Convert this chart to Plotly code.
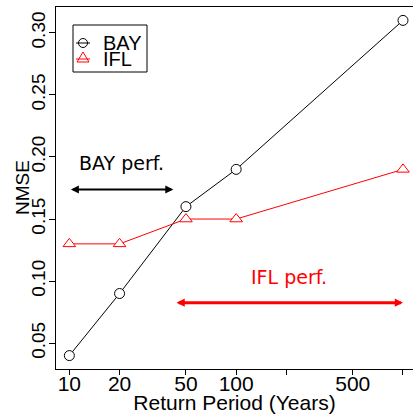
import math
import plotly.graph_objects as go

# ---------------- data ----------------
return_period = [10, 20, 50, 100, 1000]
bay_nmse = [0.04, 0.09, 0.16, 0.19, 0.31]
ifl_nmse = [0.13, 0.13, 0.15, 0.15, 0.19]
series_names = ["BAY", "IFL"]
series_colors = ["black", "red"]
x_tick_values = [10, 20, 50, 100, 200, 500, 1000]
x_tick_labels = ["10", "20", "50", "100", "", "500", ""]
y_tick_values = [0.05, 0.10, 0.15, 0.20, 0.25, 0.30]
y_tick_labels = ["0.05", "0.10", "0.15", "0.20", "0.25", "0.30"]
bay_perf_span = [10, 42]
ifl_perf_span = [43, 1000]
perf_labels = ["BAY perf.", "IFL perf."]
x_title = "Return Period (Years)"
y_title = "NMSE"

# ---------------- layout geometry ----------------
W, H = 413, 414
ML, MR, MT, MB = 56, 0, 7, 45
PW, PH = W - ML - MR, H - MT - MB
FONT = "Liberation Sans, Arial, sans-serif"
ANN_FONT = "DejaVu Sans, sans-serif"


def px(x):
    return (x - ML) / PW


def py(y):
    return (H - MB - y) / PH


fig = go.Figure()
fig.add_trace(go.Scatter(
    x=return_period, y=bay_nmse, mode="lines+markers", name=series_names[0],
    line=dict(color=series_colors[0], width=1),
    marker=dict(symbol="circle", size=10, color="white",
                line=dict(color=series_colors[0], width=1)),
    showlegend=False))
fig.add_trace(go.Scatter(
    x=return_period, y=ifl_nmse, mode="lines+markers", name=series_names[1],
    line=dict(color=series_colors[1], width=1),
    marker=dict(symbol="triangle-up", size=11, color="white",
                line=dict(color=series_colors[1], width=1)),
    showlegend=False))

annotations = []
shapes = []

# performance arrows (annotations on log axis use log10 units)
for span, yv, col, w, sz in [(bay_perf_span, 0.1737, series_colors[0], 2, 0.8),
                             (ifl_perf_span, 0.0826, series_colors[1], 3, 0.55)]:
    annotations.append(dict(
        x=math.log10(span[1]), y=yv, ax=math.log10(span[0]), ay=yv,
        xref="x", yref="y", axref="x", ayref="y", text="",
        showarrow=True, arrowhead=2, startarrowhead=2, arrowside="end+start",
        arrowsize=sz, startarrowsize=sz, arrowwidth=w, arrowcolor=col,
        standoff=0, startstandoff=0))

for span, yv, col, label in [(bay_perf_span, 0.1955, series_colors[0], perf_labels[0]),
                             (ifl_perf_span, 0.1035, series_colors[1], perf_labels[1])]:
    annotations.append(dict(
        x=(math.log10(span[0]) + math.log10(span[1])) / 2, y=yv,
        xref="x", yref="y", text=label, showarrow=False,
        font=dict(family=ANN_FONT, size=19, color=col),
        xanchor="center", yanchor="middle"))

# y axis title (placed as rotated text to sit close to the tick labels)
annotations.append(dict(x=px(22), y=py(188), xref="paper", yref="paper",
                        text=y_title, textangle=-90, showarrow=False,
                        xanchor="center", yanchor="middle",
                        font=dict(family=FONT, size=19, color="black")))

# manual legend
shapes.append(dict(type="rect", xref="paper", yref="paper",
                   x0=px(73), x1=px(147), y0=py(72), y1=py(25),
                   line=dict(color="black", width=1), fillcolor="white", layer="above"))
rows = [43, 59]
for i, (name, col) in enumerate(zip(series_names, series_colors)):
    yy = rows[i]
    shapes.append(dict(type="line", xref="paper", yref="paper",
                       x0=px(76), x1=px(90), y0=py(yy), y1=py(yy),
                       line=dict(color=col, width=1), layer="above"))
    if i == 0:
        shapes.append(dict(type="circle", xref="paper", yref="paper",
                           x0=px(83 - 4.5), x1=px(83 + 4.5), y0=py(yy + 4.5), y1=py(yy - 4.5),
                           line=dict(color=col, width=1), fillcolor="rgba(0,0,0,0)", layer="above"))
    else:
        cx, cy = 83, yy - 1
        path = "M {} {} L {} {} L {} {} Z".format(
            px(cx - 6), py(cy + 4), px(cx + 6), py(cy + 4), px(cx), py(cy - 6))
        shapes.append(dict(type="path", xref="paper", yref="paper", path=path,
                           line=dict(color=col, width=1), fillcolor="rgba(0,0,0,0)",
                           layer="above"))
    annotations.append(dict(x=px(101), y=py(yy), xref="paper", yref="paper",
                            text=name, showarrow=False, xanchor="left", yanchor="middle",
                            font=dict(family=FONT, size=20, color="black")))

fig.update_layout(
    width=W, height=H,
    margin=dict(l=ML, r=MR, t=MT, b=MB, pad=0, autoexpand=False),
    paper_bgcolor="white", plot_bgcolor="white",
    font=dict(family=FONT, color="black", size=20),
    hovermode=False,
    annotations=annotations, shapes=shapes,
    xaxis=dict(
        type="log", range=[0.92, 3.06], automargin=False,
        tickvals=x_tick_values, ticktext=x_tick_labels,
        ticks="outside", ticklen=5, tickcolor="black", tickwidth=1,
        ticklabelstandoff=-9,
        showline=True, linecolor="black", linewidth=1, mirror=True,
        showgrid=False, zeroline=False,
        tickfont=dict(family=FONT, size=21),
        title=dict(text=x_title, font=dict(family=FONT, size=21), standoff=0),
    ),
    yaxis=dict(
        range=[0.0292, 0.3208], automargin=False,
        tickvals=y_tick_values, ticktext=y_tick_labels, tickangle=-90,
        ticks="outside", ticklen=6, tickcolor="black", tickwidth=1,
        ticklabelstandoff=-4,
        showline=True, linecolor="black", linewidth=1, mirror=False,
        showgrid=False, zeroline=False,
        tickfont=dict(family=FONT, size=19),
    ),
)

fig.write_html(
    "out.html",
    config={"displayModeBar": False, "staticPlot": True},
    post_script="document.body.style.margin='0';document.body.style.padding='0';"
                "document.body.style.overflow='hidden';",
)
